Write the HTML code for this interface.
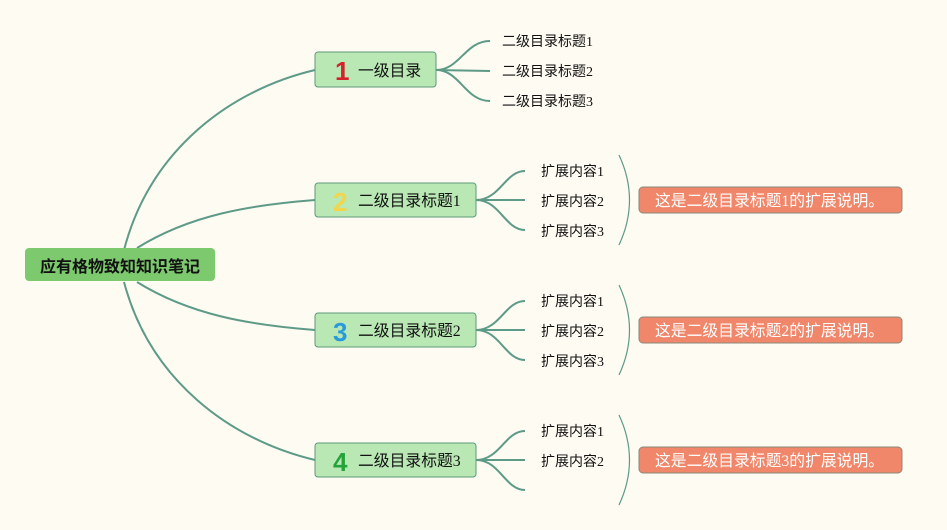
<!DOCTYPE html>
<html><head><meta charset="utf-8"><style>
body{margin:0;background:#fdfbf2;}
svg{display:block;font-family:"Liberation Serif","Noto Sans CJK SC",serif;}
.t{font-size:14px;fill:#111;}
.n{font-size:15.8px;fill:#111;}
.c{font-size:15.8px;fill:#fff;}
.num{font-family:"Liberation Sans",sans-serif;font-weight:bold;font-size:26px;}
</style></head><body>
<svg width="947" height="530" viewBox="0 0 947 530">
<rect width="947" height="530" fill="#fdfbf2"/>
<g fill="none" stroke="#5e9a88" stroke-width="2">
<path d="M124 250 C150 150 230 90 315 70"/>
<path d="M137 248 C190 215 250 205 315 200"/>
<path d="M137 282 C190 315 250 325 315 330"/>
<path d="M124 282 C150 380 230 440 315 460"/>
<path d="M436 70 C460 70 465 41 490 41 M436 70 L490 71 M436 70 C460 70 465 101 490 101"/>
<path d="M476 200 C500 200 505 171 525 171 M476 200 L525 200 M476 200 C500 200 505 230 525 230"/>
<path d="M476 330 C500 330 505 301 525 301 M476 330 L525 330 M476 330 C500 330 505 360 525 360"/>
<path d="M476 460 C500 460 505 431 525 431 M476 460 L525 460 M476 460 C500 460 505 490 525 490"/>
</g>
<g fill="none" stroke="#5e9a88" stroke-width="1.2">
<path d="M619 155 Q640 200 619 245"/>
<path d="M619 285 Q640 330 619 375"/>
<path d="M619 415 Q640 460 619 505"/>
</g>
<rect x="25" y="248" width="190" height="33" rx="4" fill="#7dc96e"/>
<text x="120" y="272" text-anchor="middle" font-size="16" font-weight="bold" fill="#111" font-family="Liberation Sans,Noto Sans CJK SC,sans-serif">应有格物致知知识笔记</text>
<g stroke="#5a9a7a" fill="#b9e8b4">
<rect x="315" y="52" width="121" height="35" rx="3"/>
<rect x="315" y="183" width="161" height="34" rx="3"/>
<rect x="315" y="313" width="161" height="34" rx="3"/>
<rect x="315" y="443" width="161" height="34" rx="3"/>
</g>
<text class="num" x="335" y="80" fill="#d6202a">1</text>
<text class="num" x="333" y="211" fill="#f2d54a">2</text>
<text class="num" x="333" y="341" fill="#2a9ad8">3</text>
<text class="num" x="333" y="471" fill="#25a33b">4</text>
<text class="n" x="358" y="76">一级目录</text>
<text class="n" x="358" y="206">二级目录标题1</text>
<text class="n" x="358" y="336">二级目录标题2</text>
<text class="n" x="358" y="466">二级目录标题3</text>
<text class="t" x="502" y="46">二级目录标题1</text>
<text class="t" x="502" y="76">二级目录标题2</text>
<text class="t" x="502" y="106">二级目录标题3</text>
<text class="t" x="541" y="176">扩展内容1</text>
<text class="t" x="541" y="206">扩展内容2</text>
<text class="t" x="541" y="236">扩展内容3</text>
<text class="t" x="541" y="306">扩展内容1</text>
<text class="t" x="541" y="336">扩展内容2</text>
<text class="t" x="541" y="366">扩展内容3</text>
<text class="t" x="541" y="436">扩展内容1</text>
<text class="t" x="541" y="466">扩展内容2</text>
<g fill="#f0876a" stroke="#8a8a7a" stroke-width="1">
<rect x="639" y="187" width="263" height="26" rx="4"/>
<rect x="639" y="317" width="263" height="26" rx="4"/>
<rect x="639" y="447" width="263" height="26" rx="4"/>
</g>
<text class="c" x="655" y="206">这是二级目录标题1的扩展说明。</text>
<text class="c" x="655" y="336">这是二级目录标题2的扩展说明。</text>
<text class="c" x="655" y="466">这是二级目录标题3的扩展说明。</text>
</svg>
</body></html>
